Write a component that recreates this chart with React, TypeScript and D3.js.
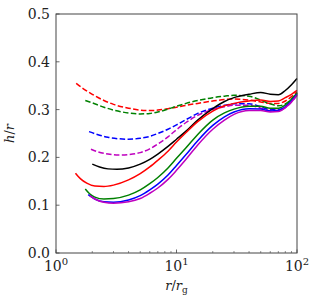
import * as d3 from "d3";

const W = 316;
const H = 304;
const MARGIN = { top: 14, right: 19, bottom: 51, left: 56 };

// radius grid (r / r_g) for each curve
const xsRedSolid = [1.45, 1.6, 1.8, 2.1, 2.5, 3, 4, 5, 6, 7, 8.5, 10, 12, 15, 20, 25, 30, 40, 50, 60, 70, 80, 90, 100];
const ysRedSolid = [0.167, 0.155, 0.146, 0.14, 0.139, 0.142, 0.153, 0.166, 0.18, 0.194, 0.213, 0.232, 0.252, 0.275, 0.297, 0.308, 0.313, 0.318, 0.32, 0.317, 0.318, 0.325, 0.332, 0.34];

const xsBlack = [2.0, 2.3, 2.7, 3.2, 4, 5, 6, 7, 8.5, 10, 12, 15, 20, 25, 30, 40, 50, 60, 70, 80, 90, 100];
const ysBlack = [0.186, 0.18, 0.176, 0.175, 0.178, 0.186, 0.196, 0.207, 0.223, 0.238, 0.255, 0.278, 0.302, 0.317, 0.325, 0.332, 0.336, 0.332, 0.331, 0.34, 0.352, 0.365];

const xsGreen = [1.75, 1.9, 2.1, 2.5, 3, 4, 5, 6, 7, 8.5, 10, 12, 15, 20, 25, 30, 40, 50, 60, 70, 80, 90, 100];
const ysGreen = [0.134, 0.124, 0.117, 0.113, 0.114, 0.121, 0.132, 0.145, 0.158, 0.178, 0.198, 0.22, 0.248, 0.278, 0.293, 0.301, 0.307, 0.307, 0.303, 0.303, 0.31, 0.322, 0.335];

const xsBlue = [1.85, 2.1, 2.5, 3, 4, 5, 6, 7, 8.5, 10, 12, 15, 20, 25, 30, 40, 50, 60, 70, 80, 90, 100];
const ysBlue = [0.122, 0.113, 0.107, 0.106, 0.111, 0.12, 0.132, 0.144, 0.163, 0.183, 0.206, 0.235, 0.267, 0.285, 0.295, 0.302, 0.301, 0.297, 0.298, 0.306, 0.318, 0.332];

const xsMagenta = [1.9, 2.1, 2.5, 3, 4, 5, 6, 7, 8.5, 10, 12, 15, 20, 25, 30, 40, 50, 60, 70, 80, 90, 100];
const ysMagenta = [0.12, 0.113, 0.106, 0.104, 0.107, 0.114, 0.125, 0.136, 0.154, 0.173, 0.196, 0.226, 0.259, 0.278, 0.29, 0.298, 0.298, 0.295, 0.296, 0.304, 0.316, 0.33];

const xsRedDash = [1.47, 1.7, 2, 2.5, 3, 4, 5, 6, 7, 8.5, 10, 12, 15, 20, 25, 30, 40, 50, 60, 70, 80, 90, 100];
const ysRedDash = [0.355, 0.343, 0.332, 0.319, 0.311, 0.303, 0.299, 0.298, 0.299, 0.302, 0.305, 0.309, 0.313, 0.318, 0.321, 0.322, 0.32, 0.316, 0.313, 0.313, 0.318, 0.327, 0.337];

const xsGreenDash = [1.75, 2, 2.5, 3, 4, 5, 6, 7, 8.5, 10, 12, 15, 20, 25, 30, 40, 50, 60, 70, 80, 90, 100];
const ysGreenDash = [0.319, 0.314, 0.305, 0.299, 0.293, 0.291, 0.292, 0.295, 0.301, 0.307, 0.313, 0.319, 0.325, 0.328, 0.33, 0.328, 0.32, 0.312, 0.308, 0.312, 0.322, 0.335];

const xsBlueDash = [1.88, 2.2, 2.7, 3.3, 4, 5, 6, 7, 8.5, 10, 12, 15, 20, 25, 30, 40, 50, 60, 70, 80, 90, 100];
const ysBlueDash = [0.254, 0.248, 0.242, 0.239, 0.238, 0.24, 0.244, 0.25, 0.259, 0.268, 0.279, 0.292, 0.303, 0.309, 0.312, 0.312, 0.306, 0.3, 0.3, 0.306, 0.318, 0.332];

const xsMagentaDash = [1.95, 2.2, 2.7, 3.3, 4, 5, 6, 7, 8.5, 10, 12, 15, 20, 25, 30, 40, 50, 60, 70, 80, 90, 100];
const ysMagentaDash = [0.217, 0.212, 0.207, 0.205, 0.206, 0.21, 0.218, 0.228, 0.243, 0.258, 0.273, 0.288, 0.3, 0.306, 0.309, 0.309, 0.303, 0.298, 0.298, 0.304, 0.316, 0.33];

const yTicks = [0, 0.1, 0.2, 0.3, 0.4, 0.5];
const xMajor = [1, 10, 100];
const xExponents = ["0", "1", "2"];

const SERIES = [
  { xs: xsRedDash, ys: ysRedDash, color: "#ff0000", dash: true },
  { xs: xsGreenDash, ys: ysGreenDash, color: "#008000", dash: true },
  { xs: xsBlueDash, ys: ysBlueDash, color: "#0000ff", dash: true },
  { xs: xsMagentaDash, ys: ysMagentaDash, color: "#bf00bf", dash: true },
  { xs: xsBlack, ys: ysBlack, color: "#000000", dash: false },
  { xs: xsRedSolid, ys: ysRedSolid, color: "#ff0000", dash: false },
  { xs: xsGreen, ys: ysGreen, color: "#008000", dash: false },
  { xs: xsBlue, ys: ysBlue, color: "#0000ff", dash: false },
  { xs: xsMagenta, ys: ysMagenta, color: "#bf00bf", dash: false },
];

export default function App() {
  const boundsW = W - MARGIN.left - MARGIN.right;
  const boundsH = H - MARGIN.top - MARGIN.bottom;

  const xScale = d3.scaleLog().domain([1, 100]).range([0, boundsW]);
  const yScale = d3.scaleLinear().domain([0, 0.5]).range([boundsH, 0]);

  const line = d3
    .line<[number, number]>()
    .x((d) => xScale(d[0]))
    .y((d) => yScale(d[1]))
    .curve(d3.curveMonotoneX);

  const paths = SERIES.map((s, i) => {
    const pts = s.xs.map((x, j) => [x, s.ys[j]] as [number, number]);
    return (
      <path
        key={i}
        d={line(pts) || ""}
        fill="none"
        stroke={s.color}
        strokeWidth={1.5}
        strokeDasharray={s.dash ? "5.5,2.4" : undefined}
      />
    );
  });

  // minor ticks on the log axis
  const minor: number[] = [];
  for (const dec of [1, 10]) {
    for (let k = 2; k <= 9; k++) minor.push(dec * k);
  }

  const font = "'DejaVu Serif', serif";
  const axisColor = "#444";

  return (
    <svg width={W} height={H} style={{ position: "absolute", left: 0, top: 0 }}>
      <rect width={W} height={H} fill="#fff" />
      <g transform={`translate(${MARGIN.left},${MARGIN.top})`}>
        <g>{paths}</g>
        <rect x={0} y={0} width={boundsW} height={boundsH} fill="none" stroke={axisColor} strokeWidth={1} />
        {yTicks.map((t, i) => (
          <g key={i}>
            <line x1={0} x2={3.5} y1={yScale(t)} y2={yScale(t)} stroke={axisColor} strokeWidth={0.8} />
            <text
              x={-6}
              y={yScale(t)}
              dy="0.36em"
              textAnchor="end"
              fontFamily={font}
              fontSize={14}
              fill="#222"
            >
              {t.toFixed(1)}
            </text>
          </g>
        ))}
        {minor.map((m, i) => (
          <line key={i} x1={xScale(m)} x2={xScale(m)} y1={boundsH} y2={boundsH - 2} stroke={axisColor} strokeWidth={0.6} />
        ))}
        {xMajor.map((t, i) => (
          <g key={i}>
            <line x1={xScale(t)} x2={xScale(t)} y1={boundsH} y2={boundsH - 3.5} stroke={axisColor} strokeWidth={0.8} />
            <text
              x={xScale(t)}
              y={boundsH + 18}
              textAnchor="middle"
              fontFamily={font}
              fontSize={14}
              fill="#222"
            >
              10
              <tspan dy={-6} fontSize={10}>
                {xExponents[i]}
              </tspan>
            </text>
          </g>
        ))}
        <text
          x={boundsW / 2}
          y={boundsH + 37}
          textAnchor="middle"
          fontFamily={font}
          fontSize={13}
          fill="#222"
        >
          <tspan fontStyle="italic">r</tspan>/<tspan fontStyle="italic">r</tspan>
          <tspan dy={3} fontSize={9}>g</tspan>
        </text>
        <text
          transform={`translate(${-42},${boundsH / 2}) rotate(-90)`}
          textAnchor="middle"
          fontFamily={font}
          fontSize={13}
          fill="#222"
        >
          <tspan fontStyle="italic">h</tspan>/<tspan fontStyle="italic">r</tspan>
        </text>
      </g>
    </svg>
  );
}
